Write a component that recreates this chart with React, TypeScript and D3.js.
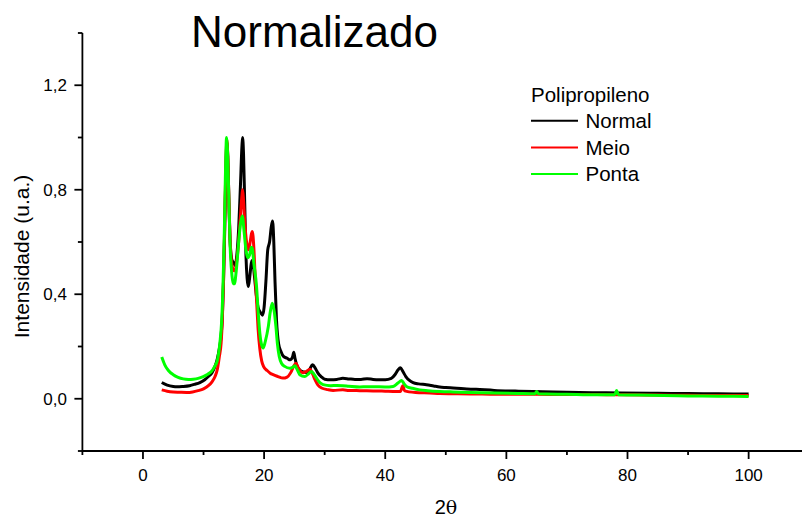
import React from 'react';
import * as d3 from 'd3';

// 2θ / normalized intensity pairs
const normal: [number, number][] = [
  [3.1, 0.062], [4, 0.052], [5, 0.047], [5.6, 0.046], [6.5, 0.047], [7.7, 0.05], [8.5, 0.055], [9.4, 0.062],
  [10.2, 0.073], [10.8, 0.085], [11.4, 0.1], [11.9, 0.124], [12.3, 0.155], [12.6, 0.19], [12.9, 0.24], [13.1, 0.31],
  [13.3, 0.45], [13.5, 0.65], [13.7, 0.88], [13.85, 0.98], [14.0, 0.93], [14.2, 0.75], [14.4, 0.6], [14.7, 0.53],
  [15.0, 0.52], [15.2, 0.51], [15.5, 0.55], [15.8, 0.65], [16.1, 0.82], [16.35, 0.97], [16.45, 1.0], [16.6, 0.94],
  [16.8, 0.75], [17.0, 0.55], [17.2, 0.46], [17.4, 0.43], [17.6, 0.46], [17.9, 0.52], [18.1, 0.53], [18.4, 0.47],
  [18.7, 0.4], [19.0, 0.35], [19.4, 0.33], [19.75, 0.32], [20.0, 0.35], [20.3, 0.45], [20.6, 0.57], [20.9, 0.6],
  [21.2, 0.66], [21.4, 0.68], [21.6, 0.6], [21.8, 0.45], [22.05, 0.3], [22.4, 0.21], [22.8, 0.18], [23.2, 0.162],
  [23.8, 0.155], [24.3, 0.149], [24.7, 0.16], [24.9, 0.178], [25.1, 0.155], [25.4, 0.128], [25.9, 0.11], [26.5, 0.103],
  [27.0, 0.1], [27.5, 0.112], [28.0, 0.13], [28.5, 0.115], [28.9, 0.098], [29.4, 0.085], [30, 0.075], [31, 0.073],
  [32, 0.074], [33, 0.078], [34, 0.076], [35, 0.074], [36, 0.074], [37, 0.077], [38, 0.074], [39, 0.073],
  [40, 0.073], [41, 0.078], [41.6, 0.092], [42.1, 0.11], [42.5, 0.119], [42.9, 0.105], [43.4, 0.085], [44, 0.07],
  [44.6, 0.062], [45.5, 0.057], [46.8, 0.054], [48, 0.049], [49, 0.045], [50, 0.043], [51.2, 0.041], [53, 0.038],
  [55, 0.036], [58, 0.032], [62, 0.029], [66, 0.027], [70, 0.025], [75, 0.023], [79, 0.022], [85, 0.021],
  [90, 0.02], [95, 0.019], [100, 0.018],
];

const meio: [number, number][] = [
  [3.1, 0.034], [4, 0.029], [5, 0.026], [6, 0.025], [7.2, 0.024], [8.2, 0.026], [9.1, 0.031], [10, 0.038],
  [10.8, 0.05], [11.4, 0.065], [11.9, 0.085], [12.3, 0.115], [12.6, 0.16], [12.9, 0.213], [13.1, 0.3], [13.3, 0.45],
  [13.5, 0.68], [13.7, 0.9], [13.85, 0.99], [14.0, 0.93], [14.2, 0.75], [14.4, 0.6], [14.7, 0.51], [15.0, 0.49],
  [15.2, 0.49], [15.5, 0.53], [15.8, 0.6], [16.1, 0.7], [16.35, 0.78], [16.45, 0.8], [16.6, 0.76], [16.8, 0.68],
  [17.1, 0.6], [17.4, 0.57], [17.7, 0.6], [17.9, 0.63], [18.05, 0.64], [18.3, 0.58], [18.5, 0.48], [18.75, 0.38],
  [19.0, 0.27], [19.3, 0.19], [19.6, 0.145], [19.9, 0.124], [20.5, 0.108], [21.0, 0.098], [21.5, 0.092], [22.3, 0.085],
  [23.1, 0.079], [23.8, 0.083], [24.4, 0.1], [24.9, 0.125], [25.25, 0.136], [25.6, 0.12], [26.0, 0.105], [26.45, 0.1],
  [27.0, 0.105], [27.55, 0.113], [28.0, 0.095], [28.4, 0.073], [28.9, 0.052], [29.5, 0.041], [30.5, 0.035], [31.4, 0.032],
  [33, 0.034], [34, 0.032], [35.8, 0.031], [38, 0.03], [40, 0.029], [41.3, 0.028], [42.5, 0.028], [42.9, 0.05],
  [43.2, 0.03], [45, 0.024], [47.4, 0.022], [49, 0.02], [52, 0.019], [56, 0.018], [60, 0.017], [65, 0.017],
  [70, 0.016], [75, 0.016], [78, 0.015], [80, 0.015], [85, 0.014], [90, 0.013], [95, 0.012], [100, 0.012],
];

const ponta: [number, number][] = [
  [3.1, 0.16], [3.6, 0.13], [4.2, 0.108], [5, 0.092], [5.8, 0.082], [6.65, 0.076], [7.5, 0.074], [8.3, 0.075],
  [9.1, 0.078], [9.95, 0.085], [10.7, 0.094], [11.3, 0.104], [11.8, 0.122], [12.3, 0.149], [12.7, 0.214], [13.0, 0.3],
  [13.2, 0.42], [13.4, 0.6], [13.6, 0.84], [13.8, 1.0], [14.0, 0.92], [14.2, 0.74], [14.4, 0.58], [14.7, 0.47],
  [14.9, 0.44], [15.1, 0.44], [15.4, 0.49], [15.8, 0.6], [16.1, 0.67], [16.4, 0.7], [16.7, 0.64], [17.0, 0.57],
  [17.3, 0.54], [17.6, 0.55], [17.9, 0.58], [18.05, 0.575], [18.3, 0.52], [18.75, 0.43], [19.0, 0.34], [19.3, 0.25],
  [19.6, 0.205], [19.85, 0.194], [20.2, 0.22], [20.7, 0.277], [21.0, 0.33], [21.35, 0.366], [21.7, 0.33], [21.95, 0.277],
  [22.2, 0.21], [22.5, 0.162], [22.9, 0.135], [23.4, 0.124], [24.25, 0.117], [24.7, 0.12], [25.1, 0.126], [25.5, 0.11],
  [25.9, 0.092], [26.7, 0.085], [27.3, 0.095], [27.8, 0.104], [28.2, 0.095], [28.65, 0.079], [29.2, 0.062], [29.75, 0.054],
  [31, 0.05], [32, 0.051], [33, 0.05], [34, 0.048], [35.8, 0.045], [37, 0.046], [38, 0.046], [40, 0.045],
  [41.3, 0.047], [42.1, 0.06], [42.7, 0.07], [43.1, 0.058], [43.5, 0.047], [44.5, 0.04], [45.7, 0.034], [47, 0.031],
  [49, 0.028], [51.2, 0.026], [54, 0.024], [58, 0.022], [62, 0.02], [64.7, 0.019], [65, 0.028], [65.3, 0.019],
  [70, 0.017], [75, 0.015], [77.9, 0.015], [78.2, 0.032], [78.5, 0.015], [82, 0.014], [86, 0.012], [90, 0.011],
  [95, 0.01], [100, 0.009],
];

const seriesNames = ['Normal', 'Meio', 'Ponta'];
const seriesColors = ['#000000', '#ff0000', '#00ff00'];
const xMajorTicks = [0, 20, 40, 60, 80, 100];
const xMinorTicks = [-10, 10, 30, 50, 70, 90, 110];
const yMajorTicks = [0, 0.4, 0.8, 1.2];
const yMinorTicks = [-0.2, 0.2, 0.6, 1.0, 1.4];

const font = '"Liberation Sans", Arial, sans-serif';

export default function App() {
  const W = 802;
  const H = 520;

  const x = d3.scaleLinear().domain([-10, 110]).range([82.4, 809.2]);
  const y = d3.scaleLinear().domain([-0.2, 1.4]).range([451, 33]);

  const line = d3.line<[number, number]>()
    .x(d => x(d[0]))
    .y(d => y(d[1]))
    .curve(d3.curveMonotoneX);

  const series = [normal, meio, ponta];
  const fmt = (v: number) => v.toFixed(1).replace('.', ',');

  const legendX = 531;

  return (
    <svg width={W} height={H} style={{ position: 'absolute', left: 0, top: 0, background: '#fff' }} fontFamily={font}>
      <rect width={W} height={H} fill="#fff" />

      {/* title */}
      <text x={191} y={47} fontSize={44}>Normalizado</text>

      {/* curves */}
      {series.map((s, i) => (
        <path key={i} d={line(s) ?? ''} fill="none" stroke={seriesColors[i]} strokeWidth={3} strokeLinejoin="round" />
      ))}

      {/* axes */}
      <line x1={x(-10)} x2={x(110)} y1={y(-0.2)} y2={y(-0.2)} stroke="#000" strokeWidth={1.8} />
      <line x1={x(-10)} x2={x(-10)} y1={y(-0.2)} y2={y(1.4)} stroke="#000" strokeWidth={1.8} />

      {xMajorTicks.map(t => (
        <g key={'xM' + t}>
          <line x1={x(t)} x2={x(t)} y1={y(-0.2)} y2={y(-0.2) + 8} stroke="#000" strokeWidth={1.8} />
          <text x={x(t)} y={481} fontSize={17} textAnchor="middle">{t}</text>
        </g>
      ))}
      {xMinorTicks.map(t => (
        <line key={'xm' + t} x1={x(t)} x2={x(t)} y1={y(-0.2)} y2={y(-0.2) + 4} stroke="#000" strokeWidth={1.8} />
      ))}
      {yMajorTicks.map(t => (
        <g key={'yM' + t}>
          <line x1={x(-10) - 8} x2={x(-10)} y1={y(t)} y2={y(t)} stroke="#000" strokeWidth={1.8} />
          <text x={67} y={y(t) + 6} fontSize={17} textAnchor="end">{fmt(t)}</text>
        </g>
      ))}
      {yMinorTicks.map(t => (
        <line key={'ym' + t} x1={x(-10) - 4.5} x2={x(-10)} y1={y(t)} y2={y(t)} stroke="#000" strokeWidth={1.8} />
      ))}

      {/* axis labels */}
      <text x={446} y={514} fontSize={20} textAnchor="middle">
        2<tspan fontFamily='"DejaVu Serif", "Liberation Serif", serif' fontSize={19}>θ</tspan>
      </text>
      <text transform="translate(29,256.5) rotate(-90)" fontSize={21} textAnchor="middle">Intensidade (u.a.)</text>

      {/* legend */}
      <text x={legendX} y={102} fontSize={20.5}>Polipropileno</text>
      {seriesNames.map((n, i) => (
        <g key={n}>
          <line x1={legendX} x2={578} y1={120.7 + i * 26.7} y2={120.7 + i * 26.7} stroke={seriesColors[i]} strokeWidth={2} />
          <text x={585.5} y={128 + i * 26.7} fontSize={20.5}>{n}</text>
        </g>
      ))}
    </svg>
  );
}
